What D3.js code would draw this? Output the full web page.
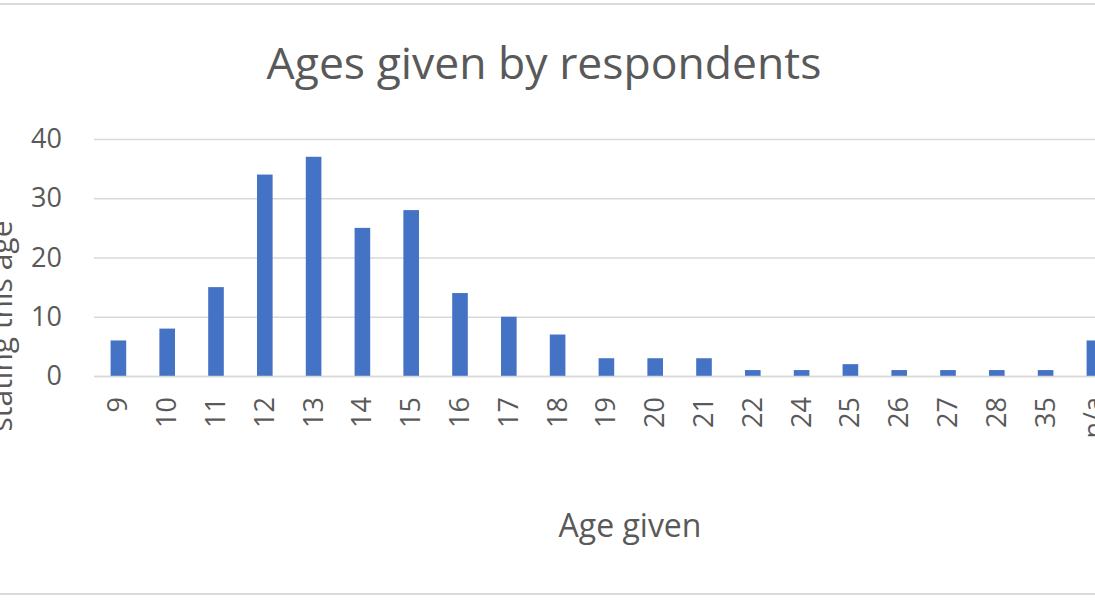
<!DOCTYPE html>
<html>
<head>
<meta charset="utf-8">
<script src="https://cdn.jsdelivr.net/npm/d3@7"></script>
<style>
  html, body { margin: 0; padding: 0; background: #ffffff; overflow: hidden; }
  svg { display: block; }
  text { font-family: "Open Sans", "Noto Sans", sans-serif; fill: #595959; }
</style>
</head>
<body>
<svg id="chart" width="1095" height="600"></svg>
<script>
const categories = ["9","10","11","12","13","14","15","16","17","18","19","20","21","22","24","25","26","27","28","35","n/a"];
const counts = [6, 8, 15, 34, 37, 25, 28, 14, 10, 7, 3, 3, 3, 1, 1, 2, 1, 1, 1, 1, 6];
const yTicks = [0, 10, 20, 30, 40];
const titleText = "Ages given by respondents";
const xTitle = "Age given";
const yTitle = "stating this age";

const svg = d3.select("#chart");
const W = 1095, H = 600;

const plotLeft = 94, step = 48.8;
const x = d3.scaleBand()
  .domain(categories)
  .range([plotLeft, plotLeft + step * categories.length])
  .paddingInner(0.68)
  .paddingOuter(0.34);
const y = d3.scaleLinear().domain([0, 40]).range([376, 139]);

// frame lines
svg.append("line").attr("x1", 0).attr("x2", W).attr("y1", 4).attr("y2", 4)
  .attr("stroke", "#d9d9d9").attr("stroke-width", 2);
svg.append("line").attr("x1", 0).attr("x2", W).attr("y1", 594).attr("y2", 594)
  .attr("stroke", "#d9d9d9").attr("stroke-width", 2);

// title
svg.append("text").attr("x", 544).attr("y", 79).attr("text-anchor", "middle")
  .style("font-size", "44.5px").text(titleText);

// gridlines + y axis
const yAxis = d3.axisLeft(y).tickValues(yTicks).tickSize(-(x.range()[1] - plotLeft)).tickPadding(32);
const gy = svg.append("g").attr("transform", `translate(${plotLeft},0)`).call(yAxis);
gy.select(".domain").remove();
gy.selectAll(".tick line").attr("stroke", "#d9d9d9").attr("stroke-width", 1.5);
gy.selectAll(".tick text").style("font-size", "27px").attr("fill", "#595959")
  .style("font-family", "'Open Sans', sans-serif");

// bars
svg.append("g").selectAll("rect").data(categories).join("rect")
  .attr("x", d => x(d))
  .attr("width", x.bandwidth())
  .attr("y", (d, i) => y(counts[i]))
  .attr("height", (d, i) => y(0) - y(counts[i]))
  .attr("fill", "#4472C4");

// x axis
const xAxis = d3.axisBottom(x).tickSize(0).tickPadding(0);
const gx = svg.append("g").attr("transform", `translate(0,${y(0)})`).call(xAxis);
gx.select(".domain").attr("stroke", "#d9d9d9").attr("stroke-width", 1.5);
gx.selectAll(".tick text")
  .style("font-size", "27px").attr("fill", "#595959")
  .style("font-family", "'Open Sans', sans-serif")
  .attr("text-anchor", "end")
  .attr("dy", null)
  .attr("transform", "translate(9,21) rotate(-90)");

// axis titles
svg.append("text").attr("x", 630).attr("y", 537).attr("text-anchor", "middle")
  .style("font-size", "32px").text(xTitle);
svg.append("text").attr("text-anchor", "middle")
  .attr("transform", "translate(12,326) rotate(-90)")
  .style("font-size", "30px").text(yTitle);
</script>
</body>
</html>
